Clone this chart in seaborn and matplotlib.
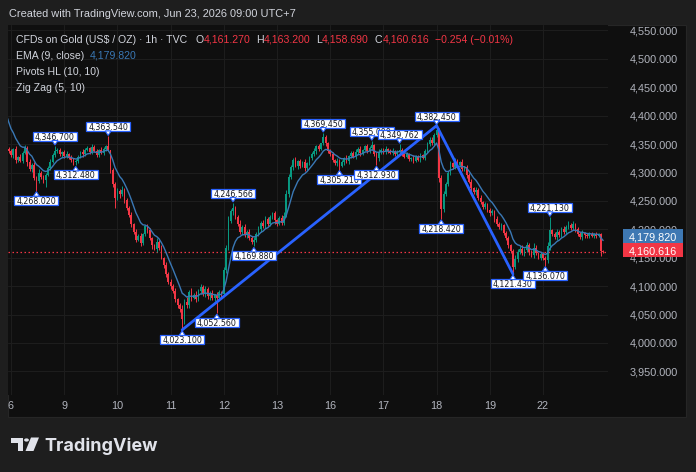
import numpy as np
import pandas as pd
import matplotlib
matplotlib.use("Agg")
import matplotlib.pyplot as plt
import seaborn as sns
from matplotlib.patches import Rectangle, Polygon, Circle

W, H = 696, 472

# ---------------- data ----------------
day_labels = ["6", "9", "10", "11", "12", "13", "16", "17", "18", "19", "22"]
day_start_idx = [0, 23, 46, 69, 92, 115, 138, 161, 184, 207, 230]
price_ticks = [3950, 4000, 4050, 4100, 4150, 4200, 4250, 4300, 4350, 4400, 4450, 4500, 4550]

warmup_close = [4410, 4408, 4405, 4400, 4395, 4390]
first_open = 4342
first_index = -1
closes = [
    4338,
    # Jun 6
    4330, 4341, 4322, 4327, 4320, 4335, 4344, 4318, 4306, 4314, 4290, 4285, 4300, 4292, 4287, 4296, 4308, 4318, 4330, 4338, 4340, 4332, 4336,
    # Jun 9
    4329, 4333, 4326, 4322, 4318, 4320, 4328, 4336, 4332, 4340, 4343, 4336, 4345, 4338, 4331, 4340, 4334, 4342, 4347, 4340, 4305, 4280, 4256,
    # Jun 10
    4268, 4262, 4270, 4252, 4238, 4225, 4210, 4196, 4182, 4188, 4176, 4192, 4205, 4198, 4185, 4172, 4166, 4178, 4168, 4150, 4138, 4122, 4108,
    # Jun 11
    4100, 4092, 4078, 4066, 4060, 4042, 4072, 4066, 4090, 4080, 4084, 4078, 4092, 4098, 4086, 4095, 4082, 4088, 4079, 4084, 4080, 4090, 4086,
    # Jun 12
    4128, 4168, 4215, 4232, 4238, 4222, 4210, 4196, 4204, 4190, 4196, 4185, 4178, 4182, 4192, 4200, 4212, 4206, 4218, 4210, 4222, 4228, 4216,
    # Jun 13
    4210, 4220, 4212, 4224, 4262, 4292, 4310, 4322, 4312, 4320, 4312, 4318, 4308, 4316, 4326, 4332, 4338, 4346, 4342, 4352, 4362, 4352, 4338,
    # Jun 16
    4332, 4322, 4316, 4320, 4312, 4318, 4325, 4320, 4329, 4334, 4328, 4336, 4342, 4334, 4340, 4346, 4338, 4344, 4348, 4332, 4325, 4336, 4340,
    # Jun 17
    4336, 4342, 4338, 4334, 4338, 4332, 4336, 4340, 4333, 4328, 4332, 4324, 4326, 4321, 4328, 4322, 4330, 4326, 4338, 4350, 4358, 4352, 4366,
    # Jun 18
    4375, 4290, 4236, 4262, 4280, 4300, 4316, 4310, 4320, 4314, 4318, 4306, 4310, 4296, 4284, 4272, 4266, 4270, 4256, 4248, 4240, 4244, 4234,
    # Jun 19
    4228, 4232, 4218, 4210, 4204, 4208, 4194, 4184, 4172, 4162, 4134, 4148, 4160, 4166, 4158, 4164, 4172, 4160, 4154, 4168, 4158, 4150, 4156,
    # Jun 22
    4150, 4146, 4170, 4198, 4192, 4186, 4195, 4190, 4200, 4196, 4204, 4208, 4202, 4209, 4200, 4192, 4186, 4194, 4190, 4188, 4192, 4189, 4192,
    # Jun 23
    4188, 4192, 4161.27, 4160.616,
]
wick_up = [
    3,
    4, 3, 5, 2, 6, 3, 4, 3, 5, 2, 4, 3, 6, 2, 3, 4, 3, 5, 4, 0, 3, 4, 2,
    3, 4, 2, 5, 3, 4, 3, 2, 5, 3, 4, 2, 5, 4, 3, 2, 5, 3, 2, 4, 0, 3, 4,
    5, 3, 6, 2, 4, 3, 5, 2, 4, 3, 6, 2, 3, 5, 4, 2, 3, 6, 3, 4, 2, 5, 3,
    4, 3, 5, 2, 4, 6, 5, 9, 3, 6, 4, 8, 3, 5, 4, 6, 3, 4, 5, 3, 6, 4, 2,
    6, 5, 8, 4, 0, 3, 4, 6, 3, 5, 2, 4, 3, 5, 4, 6, 3, 4, 5, 3, 4, 2, 5,
    3, 4, 5, 6, 8, 6, 4, 3, 5, 2, 4, 3, 5, 2, 3, 4, 5, 3, 4, 0, 3, 4, 2,
    3, 4, 2, 5, 3, 4, 3, 5, 2, 4, 3, 5, 3, 4, 2, 3, 4, 2, 0, 3, 4, 5, 3,
    3, 4, 2, 3, 5, 2, 4, 0, 3, 2, 4, 3, 2, 4, 3, 2, 5, 3, 4, 3, 4, 5, 4,
    0, 4, 6, 5, 4, 3, 5, 3, 6, 4, 3, 5, 2, 4, 3, 5, 2, 4, 3, 5, 2, 4, 3,
    3, 4, 2, 5, 3, 4, 2, 3, 4, 2, 3, 6, 5, 4, 6, 3, 5, 4, 3, 8, 4, 3, 5,
    4, 3, 8, 0, 3, 4, 5, 3, 4, 5, 3, 6, 4, 5, 3, 4, 3, 5, 2, 4, 3, 4, 2,
    3, 2, 2, 1.93,
]
wick_dn = [
    3,
    3, 4, 5, 3, 2, 4, 3, 6, 4, 5, 3, 0, 4, 3, 5, 12, 3, 4, 2, 3, 4, 3, 5,
    3, 4, 2, 3, 4, 0, 3, 2, 4, 3, 2, 4, 3, 2, 4, 3, 2, 3, 4, 3, 6, 5, 18,
    4, 6, 3, 5, 4, 3, 6, 4, 5, 3, 6, 4, 3, 5, 4, 6, 3, 5, 4, 3, 6, 5, 4,
    5, 4, 6, 4, 5, 0, 8, 5, 4, 6, 3, 5, 4, 6, 3, 5, 4, 6, 3, 5, 0, 4, 5,
    3, 4, 5, 4, 6, 3, 5, 4, 6, 3, 5, 4, 3, 0, 4, 3, 5, 4, 3, 5, 4, 3, 6,
    4, 3, 5, 4, 3, 5, 4, 6, 3, 5, 4, 3, 5, 4, 3, 4, 3, 5, 4, 3, 4, 5, 3,
    3, 4, 3, 5, 0, 3, 4, 3, 5, 4, 3, 4, 3, 5, 4, 3, 4, 3, 4, 3, 0, 4, 3,
    3, 4, 3, 2, 4, 3, 4, 3, 4, 3, 2, 4, 3, 4, 3, 2, 4, 3, 4, 3, 4, 3, 4,
    4, 6, 0, 5, 4, 3, 5, 4, 3, 5, 4, 3, 4, 5, 3, 4, 3, 5, 4, 3, 4, 5, 3,
    4, 3, 5, 4, 3, 5, 4, 3, 5, 4, 0, 4, 5, 3, 4, 5, 4, 6, 3, 5, 4, 3, 4,
    4, 0, 5, 6, 4, 3, 5, 4, 3, 4, 5, 3, 4, 3, 5, 4, 3, 4, 5, 3, 4, 3, 4,
    3, 2, 9, 1.926,
]

pivot_high_idx = [19, 42, 96, 135, 156, 168, 184, 233]
pivot_high_val = [4346.700, 4363.540, 4246.566, 4369.450, 4355.090, 4349.762, 4382.450, 4221.130]
pivot_low_idx = [11, 28, 74, 89, 105, 142, 158, 186, 217, 231]
pivot_low_val = [4268.020, 4312.480, 4023.100, 4052.560, 4169.880, 4305.210, 4312.930, 4218.420, 4121.430, 4136.070]

zigzag_idx = [74, 184, 217]
zigzag_val = [4023.100, 4382.450, 4121.430]

ema_last = 4179.820
last_open, last_high, last_low, last_close = 4161.270, 4163.200, 4158.690, 4160.616
last_change, last_change_pct = -0.254, -0.01

# ---------------- colours ----------------
outer_bg = "#1e1e1e"
pane_bg = "#0f0f0f"
grid_c = "#1d1d1d"
up_c = "#089981"
dn_c = "#f23645"
ema_c = "#3a78b5"
zz_c = "#2962ff"
txt_c = "#d1d4dc"
axis_txt = "#b2b5be"

# ---------------- frame ----------------
sns.set_theme(style="dark")
plt.rcParams["font.family"] = ["Liberation Sans", "DejaVu Sans"]

fig = plt.figure(figsize=(W / 100, H / 100), dpi=100, facecolor=outer_bg)


def fx(px):
    return px / W


def fy(py):
    return 1 - py / H


fig.patches.append(Rectangle((fx(8), fy(417)), 678 / W, 392 / H, transform=fig.transFigure,
                             fc=pane_bg, ec="#262626", lw=0.8, zorder=-2))

ax = fig.add_axes([fx(8), fy(395), 600 / W, 370 / H])
ax.set_facecolor(pane_bg)
for s in ax.spines.values():
    s.set_visible(False)

# ---------------- candles ----------------
n = len(closes)
idx = np.arange(first_index, first_index + n)
c = np.array(closes, dtype=float)
o = np.concatenate([[first_open], c[:-1]])
hi = np.maximum(o, c) + np.array(wick_up, dtype=float)
lo = np.minimum(o, c) - np.array(wick_dn, dtype=float)
pos = {v: k for k, v in enumerate(idx)}
for i_, v_ in zip(pivot_high_idx, pivot_high_val):
    hi[pos[i_]] = v_
for i_, v_ in zip(pivot_low_idx, pivot_low_val):
    lo[pos[i_]] = v_

cols = np.where(c >= o, up_c, dn_c)
body_bot = np.minimum(o, c)
body_h = np.maximum(np.abs(c - o), 1.4)
ax.vlines(idx, lo, hi, colors=cols, lw=0.7, zorder=3)
ax.bar(idx, body_h, bottom=body_bot, width=0.72, color=cols, linewidth=0, zorder=3.1)

# EMA (9, close)
all_close = list(warmup_close) + list(closes)
all_idx = np.arange(first_index - len(warmup_close), first_index + n)
ema = pd.Series(all_close).ewm(span=9, adjust=False).mean().values
ema_df = pd.DataFrame({"i": all_idx, "ema": ema})
sns.lineplot(data=ema_df, x="i", y="ema", ax=ax, color=ema_c, lw=1.0, zorder=3.5, legend=False)

# Zig Zag
zz_df = pd.DataFrame({"i": zigzag_idx, "v": zigzag_val})
sns.lineplot(data=zz_df, x="i", y="v", ax=ax, color=zz_c, lw=2.0, zorder=4, legend=False)

# last price dotted line
ax.axhline(last_close, color=dn_c, ls=(0, (1.2, 2.0)), lw=0.9, zorder=2.5)

# ---------------- axes ----------------
ax.set_xlim((8 - 11) / 2.313, (608 - 11) / 2.313)
ax.set_ylim(4000 + (343 - 395) / 0.5683, 4000 + (343 - 25) / 0.5683)
ax.set_xticks(day_start_idx)
ax.set_xticklabels(day_labels)
ax.set_yticks(price_ticks)
ax.set_yticklabels([f"{p:,.3f}" for p in price_ticks])
ax.yaxis.tick_right()
ax.tick_params(axis="y", length=0, pad=15.5, labelcolor=axis_txt, labelsize=7.8)
ax.tick_params(axis="x", length=0, pad=4.5, labelcolor=axis_txt, labelsize=7.8)
ax.grid(True, color=grid_c, lw=0.8)
ax.set_axisbelow(True)
ax.set_xlabel("")
ax.set_ylabel("")

fig.canvas.draw()


def to_px(xd, yd):
    X, Y = ax.transData.transform((xd, yd))
    return X, H - Y


# ---------------- pivot labels ----------------
pivots = [(i_, v_, "H") for i_, v_ in zip(pivot_high_idx, pivot_high_val)] + \
         [(i_, v_, "L") for i_, v_ in zip(pivot_low_idx, pivot_low_val)]
pivots.sort(key=lambda t: t[0])
bw, bh = 44, 9
for k, (i_, v_, kind) in enumerate(pivots):
    X, Y = to_px(i_, v_)
    z = 10 + k * 0.1
    if kind == "H":
        bottom = Y - 5
        top = bottom - bh
        tri = [(X - 3, bottom - 0.5), (X + 3, bottom - 0.5), (X, Y - 1)]
    else:
        top = Y + 5
        bottom = top + bh
        tri = [(X - 3, top + 0.5), (X + 3, top + 0.5), (X, Y + 1)]
    fig.patches.append(Rectangle((fx(X - bw / 2), fy(bottom)), bw / W, bh / H, transform=fig.transFigure,
                                 fc="white", ec=zz_c, lw=0.9, zorder=z))
    fig.patches.append(Polygon([(fx(a), fy(b)) for a, b in tri], closed=True, transform=fig.transFigure,
                               fc="white", ec=zz_c, lw=0.8, zorder=z + 0.01))
    fig.text(fx(X), fy((top + bottom) / 2), f"{v_:,.3f}", ha="center", va="center_baseline",
             fontsize=5.7, color="#131722", family="DejaVu Sans", zorder=z + 0.02)

# ---------------- right price boxes ----------------
fig.patches.append(Rectangle((fx(623), fy(243)), 60 / W, 14 / H, transform=fig.transFigure,
                             fc="#3e78b3", ec="none", zorder=20))
fig.text(fx(653), fy(236), f"{ema_last:,.3f}", ha="center", va="center_baseline", color="white",
         fontsize=7.8, zorder=21)
fig.patches.append(Rectangle((fx(623), fy(257)), 60 / W, 14 / H, transform=fig.transFigure,
                             fc=dn_c, ec="none", zorder=20))
fig.text(fx(653), fy(250), f"{last_close:,.3f}", ha="center", va="center_baseline", color="white",
         fontsize=7.8, zorder=21)

# ---------------- header & legend ----------------
fig.text(fx(9), fy(13), "Created with TradingView.com, Jun 23, 2026 09:00 UTC+7", ha="left",
         va="center_baseline", color=txt_c, fontsize=7.9)

renderer = fig.canvas.get_renderer()


def draw_pieces(x0, y0, pieces, size=7.6):
    x = x0
    for txt, col, gap in pieces:
        x += gap
        t = fig.text(fx(x), fy(y0), txt, ha="left", va="center_baseline", color=col, fontsize=size)
        x += t.get_window_extent(renderer).width


def fmt_signed(v, d):
    s = f"{abs(v):,.{d}f}"
    return ("\u2212" if v < 0 else "+") + s


draw_pieces(16, 39, [
    ("CFDs on Gold (US$ / OZ) \u00b7 1h \u00b7 TVC", txt_c, 0),
    ("O", txt_c, 8), (f"{last_open:,.3f}", dn_c, 0),
    ("H", txt_c, 6), (f"{last_high:,.3f}", dn_c, 0),
    ("L", txt_c, 6), (f"{last_low:,.3f}", dn_c, 0),
    ("C", txt_c, 6), (f"{last_close:,.3f}", dn_c, 0),
    (f"{fmt_signed(last_change, 3)} ({fmt_signed(last_change_pct, 2)}%)", dn_c, 6),
])
draw_pieces(16, 55, [("EMA (9, close)", txt_c, 0), (f"{ema_last:,.3f}", ema_c, 6)])
draw_pieces(16, 71, [("Pivots HL (10, 10)", txt_c, 0)])
draw_pieces(16, 87, [("Zig Zag (5, 10)", txt_c, 0)])

# ---------------- TradingView logo ----------------
logo_c = "#e1e3ea"
fig.patches.append(Polygon([(fx(a), fy(b)) for a, b in
                            [(11, 437.5), (23, 437.5), (23, 451), (17.5, 451), (17.5, 442.5), (11, 442.5)]],
                           closed=True, transform=fig.transFigure, fc=logo_c, ec="none"))
fig.patches.append(Circle((fx(26.5), fy(440)), 2.4 / W, transform=fig.transFigure, fc=logo_c, ec="none"))
fig.patches.append(Polygon([(fx(a), fy(b)) for a, b in
                            [(31, 437.5), (39, 437.5), (33.5, 451), (25.5, 451)]],
                           closed=True, transform=fig.transFigure, fc=logo_c, ec="none"))
fig.text(fx(44), fy(444), "TradingView", ha="left", va="center_baseline", color=logo_c,
         fontsize=13, family="Inter", weight="bold")

fig.savefig("out.png", dpi=100, facecolor=outer_bg)
